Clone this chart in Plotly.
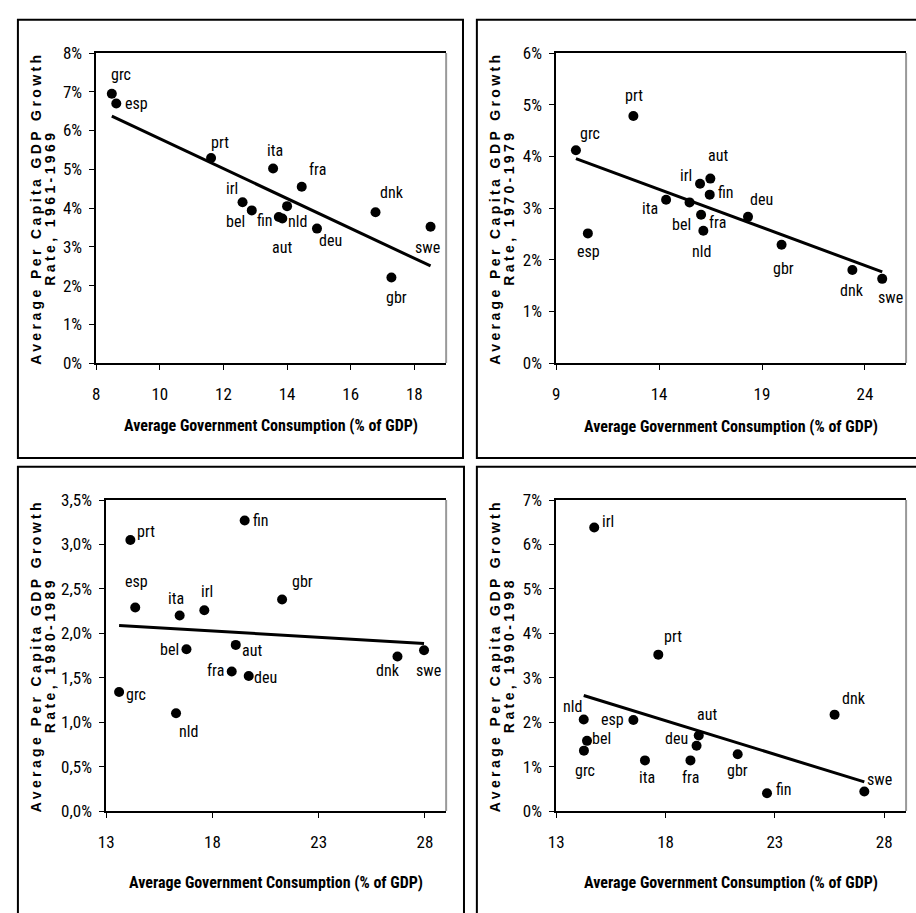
import numpy as np
import plotly.graph_objects as go

W, H = 916, 913

# ---------------- data ----------------
countries_6169 = ["grc", "esp", "prt", "ita", "fra", "irl", "bel", "fin", "aut", "nld", "deu", "dnk", "swe", "gbr"]
gov_6169 = [8.49, 8.63, 11.61, 13.56, 14.46, 12.60, 12.89, 13.74, 13.85, 14.00, 14.94, 16.78, 18.51, 17.28]
growth_6169 = [6.95, 6.70, 5.29, 5.02, 4.55, 4.15, 3.94, 3.77, 3.73, 4.05, 3.47, 3.89, 3.52, 2.21]

countries_7079 = ["grc", "prt", "esp", "ita", "bel", "irl", "aut", "fin", "fra", "nld", "deu", "gbr", "dnk", "swe"]
gov_7079 = [9.96, 12.75, 10.54, 14.34, 15.48, 15.99, 16.49, 16.46, 16.04, 16.15, 18.32, 19.95, 23.39, 24.84]
growth_7079 = [4.12, 4.78, 2.51, 3.16, 3.11, 3.47, 3.57, 3.26, 2.87, 2.56, 2.83, 2.29, 1.80, 1.63]

countries_8089 = ["prt", "fin", "esp", "ita", "irl", "gbr", "bel", "aut", "fra", "deu", "dnk", "swe", "grc", "nld"]
gov_8089 = [14.14, 19.52, 14.37, 16.46, 17.62, 21.28, 16.78, 19.10, 18.91, 19.71, 26.71, 27.96, 13.61, 16.29]
growth_8089 = [3.05, 3.27, 2.29, 2.20, 2.26, 2.38, 1.82, 1.87, 1.57, 1.52, 1.74, 1.81, 1.34, 1.10]

countries_9098 = ["irl", "prt", "dnk", "nld", "esp", "aut", "deu", "bel", "grc", "ita", "fra", "gbr", "fin", "swe"]
gov_9098 = [14.74, 17.67, 25.73, 14.26, 16.53, 19.52, 19.42, 14.41, 14.27, 17.06, 19.14, 21.30, 22.64, 27.09]
growth_9098 = [6.38, 3.52, 2.17, 2.06, 2.05, 1.70, 1.47, 1.58, 1.36, 1.14, 1.14, 1.28, 0.40, 0.44]

periods = ["1961-1969", "1970-1979", "1980-1989", "1990-1998"]

xticks_6169 = [8, 10, 12, 14, 16, 18]
xticks_7079 = [9, 14, 19, 24]
xticks_8089 = [13, 18, 23, 28]
xticks_9098 = [13, 18, 23, 28]

yticks_6169 = [0, 1, 2, 3, 4, 5, 6, 7, 8]
yticklabels_6169 = ["0%", "1%", "2%", "3%", "4%", "5%", "6%", "7%", "8%"]
yticks_7079 = [0, 1, 2, 3, 4, 5, 6]
yticklabels_7079 = ["0%", "1%", "2%", "3%", "4%", "5%", "6%"]
yticks_8089 = [0, 0.5, 1.0, 1.5, 2.0, 2.5, 3.0, 3.5]
yticklabels_8089 = ["0,0%", "0,5%", "1,0%", "1,5%", "2,0%", "2,5%", "3,0%", "3,5%"]
yticks_9098 = [0, 1, 2, 3, 4, 5, 6, 7]
yticklabels_9098 = ["0%", "1%", "2%", "3%", "4%", "5%", "6%", "7%"]

x_title = "Average Government Consumption (% of GDP)"
y_title_line1 = "Average Per Capita GDP Growth"
y_title_line2 = "Rate, "

# label offsets (pixels, screen: +dx right, +dy down)
lab_dx_6169 = [9, 20, 9, 2, 16, -11, -16, -14, 0, 10, 14, 16, -3, 5]
lab_dy_6169 = [-19, 0, -16, -18, -17, -14, 11, 4, 29, 15, 12, -20, 21, 20]
lab_dx_7079 = [14, 1, 1, -16, -8, -14, 8, 16, 16, -2, 13, 2, 0, 8]
lab_dy_7079 = [-17, -21, 18, 9, 22, -8, -23, -2, 8, 21, -17, 24, 20, 19]
lab_dx_8089 = [16, 16, 1, -4, 3, 20, -17, 16, -16, 17, -9, 4, 17, 12]
lab_dy_8089 = [-9, 0, -26, -17, -19, -18, 0, 6, -1, 2, 14, 20, 3, 18]
lab_dx_9098 = [14, 15, 19, -11, -21, 8, -20, 14, 1, 2, 0, 0, 17, 15]
lab_dy_9098 = [-6, -18, -16, -13, 0, -21, -7, -2, 20, 17, 17, 16, -4, -12]

# ---------------- layout helpers ----------------
def px_x(p):
    return p / W

def px_y(p):
    return 1 - p / H

NARROW = "Roboto, Liberation Sans, Arial, sans-serif"
COND = "font-stretch:condensed"
BOLD_WIDE = "Liberation Sans, Arial, sans-serif"


def cond(t):
    return f'<span style="{COND}">{t}</span>'


panels = [
    dict(cn=countries_6169, gx=gov_6169, gy=growth_6169, dx=lab_dx_6169, dy=lab_dy_6169,
         xt=xticks_6169, xr=[8, 19], yt=yticks_6169, ytl=yticklabels_6169, yr=[0, 8],
         area=(89, 442, 44, 361), box=(10, 459, 10, 458), xtitle_y=425, ytl1=28, ytl2=42),
    dict(cn=countries_7079, gx=gov_7079, gy=growth_7079, dx=lab_dx_7079, dy=lab_dy_7079,
         xt=xticks_7079, xr=[9, 26], yt=yticks_7079, ytl=yticklabels_7079, yr=[0, 6],
         area=(553, 906, 44, 361), box=(473, 925, 10, 458), xtitle_y=426, ytl1=491, ytl2=505),
    dict(cn=countries_8089, gx=gov_8089, gy=growth_8089, dx=lab_dx_8089, dy=lab_dy_8089,
         xt=xticks_8089, xr=[13, 29], yt=yticks_8089, ytl=yticklabels_8089, yr=[0, 3.5],
         area=(99, 442, 501, 819), box=(10, 460, 467, 925), xtitle_y=892, ytl1=28, ytl2=42),
    dict(cn=countries_9098, gx=gov_9098, gy=growth_9098, dx=lab_dx_9098, dy=lab_dy_9098,
         xt=xticks_9098, xr=[13, 29], yt=yticks_9098, ytl=yticklabels_9098, yr=[0, 7],
         area=(553, 906, 501, 819), box=(473, 925, 467, 925), xtitle_y=892, ytl1=491, ytl2=505),
]

fig = go.Figure()
annotations = []
shapes = []
layout_axes = {}

for i, (p, period) in enumerate(zip(panels, periods)):
    n = i + 1
    xa = "x" if n == 1 else f"x{n}"
    ya = "y" if n == 1 else f"y{n}"
    xl, xr_, yt_, yb = p["area"]

    # scatter points
    fig.add_trace(go.Scatter(
        x=p["gx"], y=p["gy"], mode="markers", xaxis=xa, yaxis=ya,
        marker=dict(color="black", size=10), showlegend=False, hoverinfo="skip"))
    # linear trend line (least squares, like the spreadsheet trendline)
    gx = np.array(p["gx"]); gy = np.array(p["gy"])
    b, a = np.polyfit(gx, gy, 1)
    xs = np.array([gx.min(), gx.max()])
    fig.add_trace(go.Scatter(
        x=xs, y=a + b * xs, mode="lines", xaxis=xa, yaxis=ya,
        line=dict(color="black", width=3), showlegend=False, hoverinfo="skip"))

    axis_font = dict(family=NARROW, size=17, color="black")
    layout_axes["xaxis" if n == 1 else f"xaxis{n}"] = dict(
        domain=[px_x(xl), px_x(xr_)], anchor=ya, range=p["xr"],
        tickvals=p["xt"], ticktext=[cond(v) for v in p["xt"]],
        showgrid=False, zeroline=False, showline=True, linecolor="black", linewidth=2,
        mirror=True, ticks="outside", ticklen=5, tickwidth=1, tickcolor="black",
        tickfont=axis_font, ticklabelstandoff=10, fixedrange=True)
    layout_axes["yaxis" if n == 1 else f"yaxis{n}"] = dict(
        domain=[px_y(yb), px_y(yt_)], anchor=xa, range=p["yr"],
        tickvals=p["yt"], ticktext=[cond(v) for v in p["ytl"]],
        showgrid=False, zeroline=False, showline=True, linecolor="black", linewidth=1.5,
        ticks="outside", ticklen=5, tickwidth=1, tickcolor="black",
        tickfont=axis_font, ticklabelstandoff=4, fixedrange=True)

    # grey right border of plot area
    shapes.append(dict(type="line", xref=f"{xa} domain", yref=f"{ya} domain",
                       x0=1, x1=1, y0=0, y1=1, line=dict(color="#999999", width=2)))
    # panel box
    bx0, bx1, by0, by1 = p["box"]
    shapes.append(dict(type="rect", xref="paper", yref="paper",
                       x0=px_x(bx0), x1=px_x(bx1), y0=px_y(by1), y1=px_y(by0),
                       line=dict(color="black", width=2), fillcolor="rgba(0,0,0,0)"))

    # point labels
    for c, x, y, dx, dy in zip(p["cn"], p["gx"], p["gy"], p["dx"], p["dy"]):
        annotations.append(dict(x=x, y=y, xref=xa, yref=ya, text=cond(c), showarrow=False,
                                xshift=dx, yshift=-dy, xanchor="center", yanchor="middle",
                                font=dict(family=NARROW, size=16, color="black")))

    # x axis title
    annotations.append(dict(x=px_x((xl + xr_) / 2), y=px_y(p["xtitle_y"]), xref="paper", yref="paper",
                            text=f"<b>{cond(x_title)}</b>", showarrow=False,
                            xanchor="center", yanchor="middle",
                            font=dict(family=NARROW, size=16, color="black")))
    # y axis title, two lines
    ymid = (yt_ + yb) / 2
    for txt, xc in ((y_title_line1, p["ytl1"]), (y_title_line2 + period, p["ytl2"])):
        annotations.append(dict(x=px_x(xc), y=px_y(ymid), xref="paper", yref="paper",
                                text=f'<b><span style="letter-spacing:3.4px">{txt}</span></b>',
                                showarrow=False, textangle=-90, xanchor="center", yanchor="middle",
                                font=dict(family=BOLD_WIDE, size=14, color="black")))

fig.update_layout(
    width=W, height=H, margin=dict(l=0, r=0, t=0, b=0),
    paper_bgcolor="white", plot_bgcolor="white",
    annotations=annotations, shapes=shapes, showlegend=False,
    **layout_axes)

fig.write_html("out.html", config={"displayModeBar": False},
               post_script="document.body.style.margin='0';document.body.style.overflow='hidden';")
